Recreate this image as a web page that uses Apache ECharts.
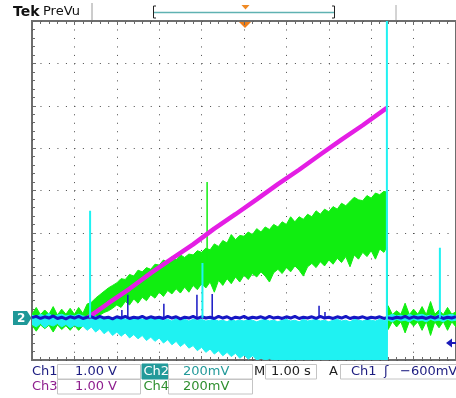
<!DOCTYPE html>
<html>
<head>
<meta charset="utf-8">
<script src="https://cdn.jsdelivr.net/npm/echarts@6/dist/echarts.min.js"></script>
<style>
  html, body { margin: 0; padding: 0; background: #ffffff; }
  #scope { width: 456px; height: 398px; }
</style>
</head>
<body>
<div id="scope"></div>
<script>
// Record: 1.00 s/div, 10 divisions; vertical values in screen divisions (-4 .. 4).
// Envelope samples every 0.1 s, plus the two samples at the acquisition cut-off.
const sampleT = [];
for (let i = 0; i <= 100; i++) {
  sampleT.push(+(i / 10).toFixed(2));
  if (i === 83) sampleT.push(8.37, 8.38);
}

// Ch4 (green) noise band, upper / lower edge
const ch4Hi = [
  -2.92,-2.76,-2.93,-2.82,-2.92,-2.74,-2.94,-2.80,-2.92,-2.78,
  -2.92,-2.76,-2.90,-2.68,-2.64,-2.54,-2.46,-2.38,-2.30,-2.24,
  -2.18,-2.08,-2.10,-1.98,-2.02,-1.88,-1.92,-1.82,-1.86,-1.74,
  -1.76,-1.64,-1.70,-1.56,-1.64,-1.52,-1.58,-1.50,-1.52,-1.42,
  -1.46,-1.36,-1.40,-1.26,-1.32,-1.18,-1.24,-1.04,-1.16,-1.06,
  -1.08,-0.98,-1.04,-0.90,-0.98,-0.86,-0.92,-0.80,-0.86,-0.74,
  -0.80,-0.62,-0.74,-0.62,-0.68,-0.56,-0.62,-0.48,-0.56,-0.44,
  -0.50,-0.38,-0.44,-0.30,-0.36,-0.26,-0.16,-0.22,-0.24,-0.12,
  -0.18,-0.06,-0.10,-0.02,
  -0.04,-2.92,
  -2.72,-2.93,-2.84,-2.92,-2.66,-2.93,-2.80,-2.92,-2.74,-2.93,-2.62,-2.92,-2.82,-2.93,-2.76,-2.92,-2.86
];
const ch4Lo = [
  -3.18,-3.32,-3.17,-3.26,-3.18,-3.34,-3.17,-3.28,-3.19,-3.30,
  -3.18,-3.30,-3.19,-3.10,-3.04,-3.00,-2.94,-2.88,-2.84,-2.78,
  -2.70,-2.76,-2.62,-2.70,-2.56,-2.66,-2.52,-2.60,-2.46,-2.54,
  -2.40,-2.50,-2.36,-2.44,-2.32,-2.42,-2.28,-2.40,-2.24,-2.34,
  -2.20,-2.30,-2.16,-2.40,-2.12,-2.24,-2.08,-2.20,-2.04,-2.16,
  -2.00,-2.10,-1.96,-2.04,-1.92,-2.02,-2.16,-1.94,-1.86,-1.96,
  -1.82,-1.92,-1.78,-1.88,-2.02,-1.80,-1.72,-1.82,-1.68,-1.78,
  -1.64,-1.74,-1.60,-1.70,-1.56,-1.80,-1.52,-1.62,-1.46,-1.56,
  -1.42,-1.62,-1.38,-1.46,
  -1.34,-3.09,
  -3.28,-3.09,-3.22,-3.10,-3.36,-3.09,-3.20,-3.10,-3.30,-3.09,-3.42,-3.10,-3.24,-3.09,-3.30,-3.10,-3.22
];

// Ch2 (cyan) noise band, upper / lower edge
const ch2Hi = [
  -2.94,-2.98,-2.92,-2.96,-2.90,-2.98,-2.94,-2.92,-2.96,-2.94,
  -2.96,-2.92,-2.96,-2.98,-3.00,-2.96,-3.02,-2.98,-3.02,-3.00,
  -3.02,-2.98,-3.04,-3.00,-3.02,-2.98,-3.04,-3.02,-3.00,-3.04,
  -3.02,-3.06,-3.04,-3.08,-3.02,-3.06,-3.04,-3.08,-3.04,-3.06,
  -3.04,-3.08,-3.06,-3.04,-3.08,-3.06,-3.10,-3.04,-3.08,-3.06,
  -3.08,-3.04,-3.06,-3.10,-3.06,-3.04,-3.08,-3.06,-3.10,-3.06,
  -3.04,-3.08,-3.06,-3.10,-3.04,-3.08,-3.06,-3.04,-3.08,-3.06,
  -3.10,-3.06,-3.04,-3.08,-3.06,-3.10,-3.04,-3.06,-3.08,-3.04,
  -3.06,-3.08,-3.04,-3.06,
  -3.06,-2.94,
  -2.96,-2.92,-2.96,-2.94,-2.98,-2.92,-2.96,-2.94,-2.92,-2.96,-2.94,-2.98,-2.92,-2.96,-2.94,-2.92,-2.96
];
const ch2Lo = [
  -3.16,-3.22,-3.14,-3.24,-3.16,-3.20,-3.14,-3.22,-3.16,-3.24,
  -3.18,-3.22,-3.20,-3.30,-3.22,-3.34,-3.26,-3.38,-3.30,-3.42,
  -3.34,-3.44,-3.36,-3.48,-3.40,-3.50,-3.42,-3.54,-3.46,-3.56,
  -3.48,-3.60,-3.52,-3.64,-3.56,-3.68,-3.60,-3.72,-3.66,-3.78,
  -3.70,-3.82,-3.74,-3.86,-3.78,-3.90,-3.82,-3.92,-3.84,-3.96,
  -3.88,-3.98,-3.90,-4.00,-3.96,-4.00,-3.97,-4.00,-4.00,-4.00,
  -4.00,-4.00,-4.00,-4.00,-4.00,-4.00,-4.00,-4.00,-4.00,-4.00,
  -4.00,-4.00,-4.00,-4.00,-4.00,-4.00,-4.00,-4.00,-4.00,-4.00,
  -4.00,-4.00,-4.00,-4.00,
  -4.00,-3.08,
  -3.06,-3.10,-3.04,-3.08,-3.06,-3.10,-3.04,-3.08,-3.06,-3.10,-3.04,-3.08,-3.06,-3.10,-3.04,-3.08,-3.06
];

// Ch1 (blue) trace
const ch1 = [
  -3.00,-2.97,-3.02,-2.98,-3.01,-2.96,-3.02,-2.99,-3.03,-2.98,
  -3.01,-2.97,-3.02,-2.99,-2.98,-3.02,-2.97,-3.01,-2.99,-3.03,
  -2.98,-3.01,-2.97,-3.02,-2.99,-3.01,-2.97,-3.02,-2.98,-3.01,
  -2.99,-3.02,-2.97,-3.01,-2.98,-3.03,-2.99,-3.01,-2.97,-3.02,
  -2.98,-3.01,-2.99,-3.02,-2.97,-3.01,-2.98,-3.03,-2.99,-3.01,
  -2.97,-3.02,-2.99,-3.01,-2.98,-3.02,-2.97,-3.01,-2.99,-3.02,
  -2.98,-3.01,-2.97,-3.02,-2.99,-3.01,-2.98,-3.02,-2.97,-3.01,
  -2.99,-3.02,-2.98,-3.01,-2.97,-3.02,-2.99,-3.01,-2.98,-3.02,
  -2.99,-3.01,-2.98,-3.02,
  -3.00,-3.01,
  -2.98,-3.02,-2.99,-3.01,-2.97,-3.02,-2.98,-3.01,-2.99,-3.02,-2.98,-3.01,-2.97,-3.02,-2.99,-3.01,-2.98
];

// Ch3 (magenta) ramp
const ch3T = [1.32, 1.8, 2.3, 2.8, 3.3, 3.8, 4.3, 4.8, 5.3, 5.8, 6.3, 6.8, 7.3, 7.8, 8.37];
const ch3V = [-3.00, -2.66, -2.32, -1.95, -1.61, -1.27, -0.90, -0.56, -0.21, 0.15, 0.49, 0.85, 1.20, 1.54, 1.95];

// Isolated glitches: time, foot, tip
const ch1SpikeT  = [2.12, 2.26, 3.11, 3.89, 4.25, 6.77, 6.91];
const ch1SpikeHi = [-2.82, -2.46, -2.67, -2.46, -2.44, -2.72, -2.87];
const ch2SpikeT  = [1.37, 4.02, 8.37, 9.62];
const ch2SpikeLo = [-3.0, -3.0, -4.0, -3.0];
const ch2SpikeHi = [-0.48, -1.71, 4.0, -1.35];
const ch4SpikeT  = [4.13];
const ch4SpikeLo = [-2.0];
const ch4SpikeHi = [0.2];

// Readout rows
const readoutRow1 = ['Ch1', '1.00 V', 'Ch2', '200mV', 'M', '1.00 s', 'A', 'Ch1', 'ʃ', '−600mV'];
const readoutRow2 = ['Ch3', '1.00 V', 'Ch4', '200mV'];

const C1 = '#1616c4', C2 = '#1ff2f2', C3 = '#e41ee4', C4 = '#10ee10';

const pairs = (xs, ys) => xs.map((x, i) => [x, ys[i]]);
const spikes = (ts, lo, hi) => {
  const out = [];
  ts.forEach((t, i) => { out.push([t, lo[i]], [t, hi[i]], [t, '-']); });
  return out;
};

// A filled envelope between two edges, placed through the grid's own scales.
function band(lo, hi, color) {
  return {
    type: 'custom', silent: true, clip: true,
    data: pairs(sampleT, hi),
    encode: { x: 0, y: 1 },
    renderItem: function (params, api) {
      if (params.dataIndex !== 0) return null;
      const top = sampleT.map((t, i) => api.coord([t, hi[i]]));
      const bottom = sampleT.map((t, i) => api.coord([t, lo[i]])).reverse();
      return {
        type: 'polygon',
        shape: { points: top.concat(bottom) },
        style: { fill: color, stroke: color, lineWidth: 1 }
      };
    }
  };
}

const FONT = '"DejaVu Sans", sans-serif';
const txt = (x, y, text, fill, size, weight) => ({
  type: 'text', x, y, silent: true,
  style: { text, fill, font: (weight ? weight + ' ' : '') + (size || 13) + 'px ' + FONT, verticalAlign: 'middle', align: 'left' }
});
const box = (x, y, w, h, fill, stroke) => ({
  type: 'rect', silent: true, shape: { x, y, width: w, height: h },
  style: { fill: fill || 'none', stroke: stroke || '#c4c4c4', lineWidth: 1 }
});
const poly = (points, fill) => ({ type: 'polygon', silent: true, shape: { points }, style: { fill } });
const pl = (points, stroke, w) => ({ type: 'polyline', silent: true, shape: { points }, style: { stroke, lineWidth: w || 1, fill: 'none' } });

const tickStyle = { color: '#6a6a6a', width: 1 };
const dotted = { color: '#4a4a4a', width: 1, type: [1, 7.48] };
const edgeAxis = (extra) => Object.assign({
  type: 'value',
  axisLine: { show: false, onZero: false }, axisLabel: { show: false },
  axisTick: { inside: true, length: 4, lineStyle: tickStyle },
  minorTick: { show: true, splitNumber: 5, length: 3, lineStyle: tickStyle }
}, extra);

const chart = echarts.init(document.getElementById('scope'), null, { renderer: 'canvas' });
chart.setOption({
  animation: false,
  backgroundColor: '#ffffff',
  grid: { left: 32, top: 21, width: 424, height: 339, show: true, borderColor: '#6e6e6e', borderWidth: 2, backgroundColor: 'transparent' },
  xAxis: [
    edgeAxis({ position: 'bottom', min: 0, max: 10, interval: 1, splitLine: { show: true, lineStyle: dotted } }),
    edgeAxis({ position: 'top', min: 0, max: 10, interval: 1, splitLine: { show: false } })
  ],
  yAxis: [
    edgeAxis({ position: 'left', min: -4, max: 4, interval: 1, splitLine: { show: true, lineStyle: dotted } })
  ],
  series: [
    band(ch4Lo, ch4Hi, C4),
    { type: 'line', data: spikes(ch4SpikeT, ch4SpikeLo, ch4SpikeHi), symbol: 'none', connectNulls: false,
      lineStyle: { color: C4, width: 1.5 }, silent: true },
    band(ch2Lo, ch2Hi, C2),
    { type: 'line', data: pairs(ch3T, ch3V), symbol: 'none', lineStyle: { color: C3, width: 4.5 }, silent: true },
    { type: 'line', data: pairs(sampleT, ch1), symbol: 'none', lineStyle: { color: C1, width: 3 }, silent: true },
    { type: 'line', data: spikes(ch1SpikeT, ch1SpikeT.map(() => -3.0), ch1SpikeHi), symbol: 'none', connectNulls: false,
      lineStyle: { color: C1, width: 1.5 }, silent: true },
    { type: 'line', data: spikes(ch2SpikeT, ch2SpikeLo, ch2SpikeHi), symbol: 'none', connectNulls: false,
      lineStyle: { color: C2, width: 2 }, silent: true }
  ],
  graphic: [
    // header
    txt(13, 12, 'Tek', '#111111', 14, 'bold'),
    txt(43, 12, 'PreVu', '#111111', 13),
    pl([[92, 3], [92, 20]], '#9a9a9a', 1),
    pl([[396, 5], [396, 20]], '#a8a8a8', 1),
    pl([[156, 6], [153.5, 6], [153.5, 18], [156, 18]], '#222', 1),
    pl([[154, 12.5], [334, 12.5]], '#5fb2b2', 1.5),
    pl([[332, 6], [334.5, 6], [334.5, 18], [332, 18]], '#222', 1),
    poly([[241.5, 5], [249.5, 5], [245.5, 9.5]], '#f08a24'),
    poly([[239, 22], [251, 22], [245, 28]], '#f07f1a'),
    // channel 2 ground marker
    poly([[13, 311], [27, 311], [31.5, 318], [27, 325], [13, 325]], '#1f9898'),
    txt(17, 318.5, '2', '#ffffff', 12, 'bold'),
    // Ch1 trigger level arrow
    poly([[446, 343], [452, 338.5], [452, 347.5]], '#1a1ab8'),
    pl([[450, 343], [457, 343]], '#1a1ab8', 2),
    // readout row 1
    box(57.5, 364.5, 83, 14.5),
    box(142, 364, 26, 15, '#239a9a', '#239a9a'),
    box(168.5, 364.5, 84, 14.5),
    box(265.5, 364.5, 51, 14.5),
    box(340.5, 364.5, 120, 14.5),
    txt(32, 372, readoutRow1[0], '#1c1c80', 13),
    txt(75, 372, readoutRow1[1], '#1c1c80', 13),
    txt(143.5, 372, readoutRow1[2], '#ffffff', 13),
    txt(183, 372, readoutRow1[3], '#239a9a', 13),
    txt(254, 372, readoutRow1[4], '#222222', 13),
    txt(271, 372, readoutRow1[5], '#222222', 13),
    txt(329, 372, readoutRow1[6], '#222222', 13),
    txt(351, 372, readoutRow1[7], '#1c1c80', 13),
    txt(384, 372, readoutRow1[8], '#1c1c80', 13),
    txt(400, 372, readoutRow1[9], '#1c1c80', 13),
    // readout row 2
    box(57.5, 379.5, 83, 14.5),
    box(168.5, 379.5, 84, 14.5),
    txt(32, 387, readoutRow2[0], '#8e1f8e', 13),
    txt(75, 387, readoutRow2[1], '#8e1f8e', 13),
    txt(143.5, 387, readoutRow2[2], '#2f8f2f', 13),
    txt(183, 387, readoutRow2[3], '#2f8f2f', 13)
  ]
});
</script>
</body>
</html>
